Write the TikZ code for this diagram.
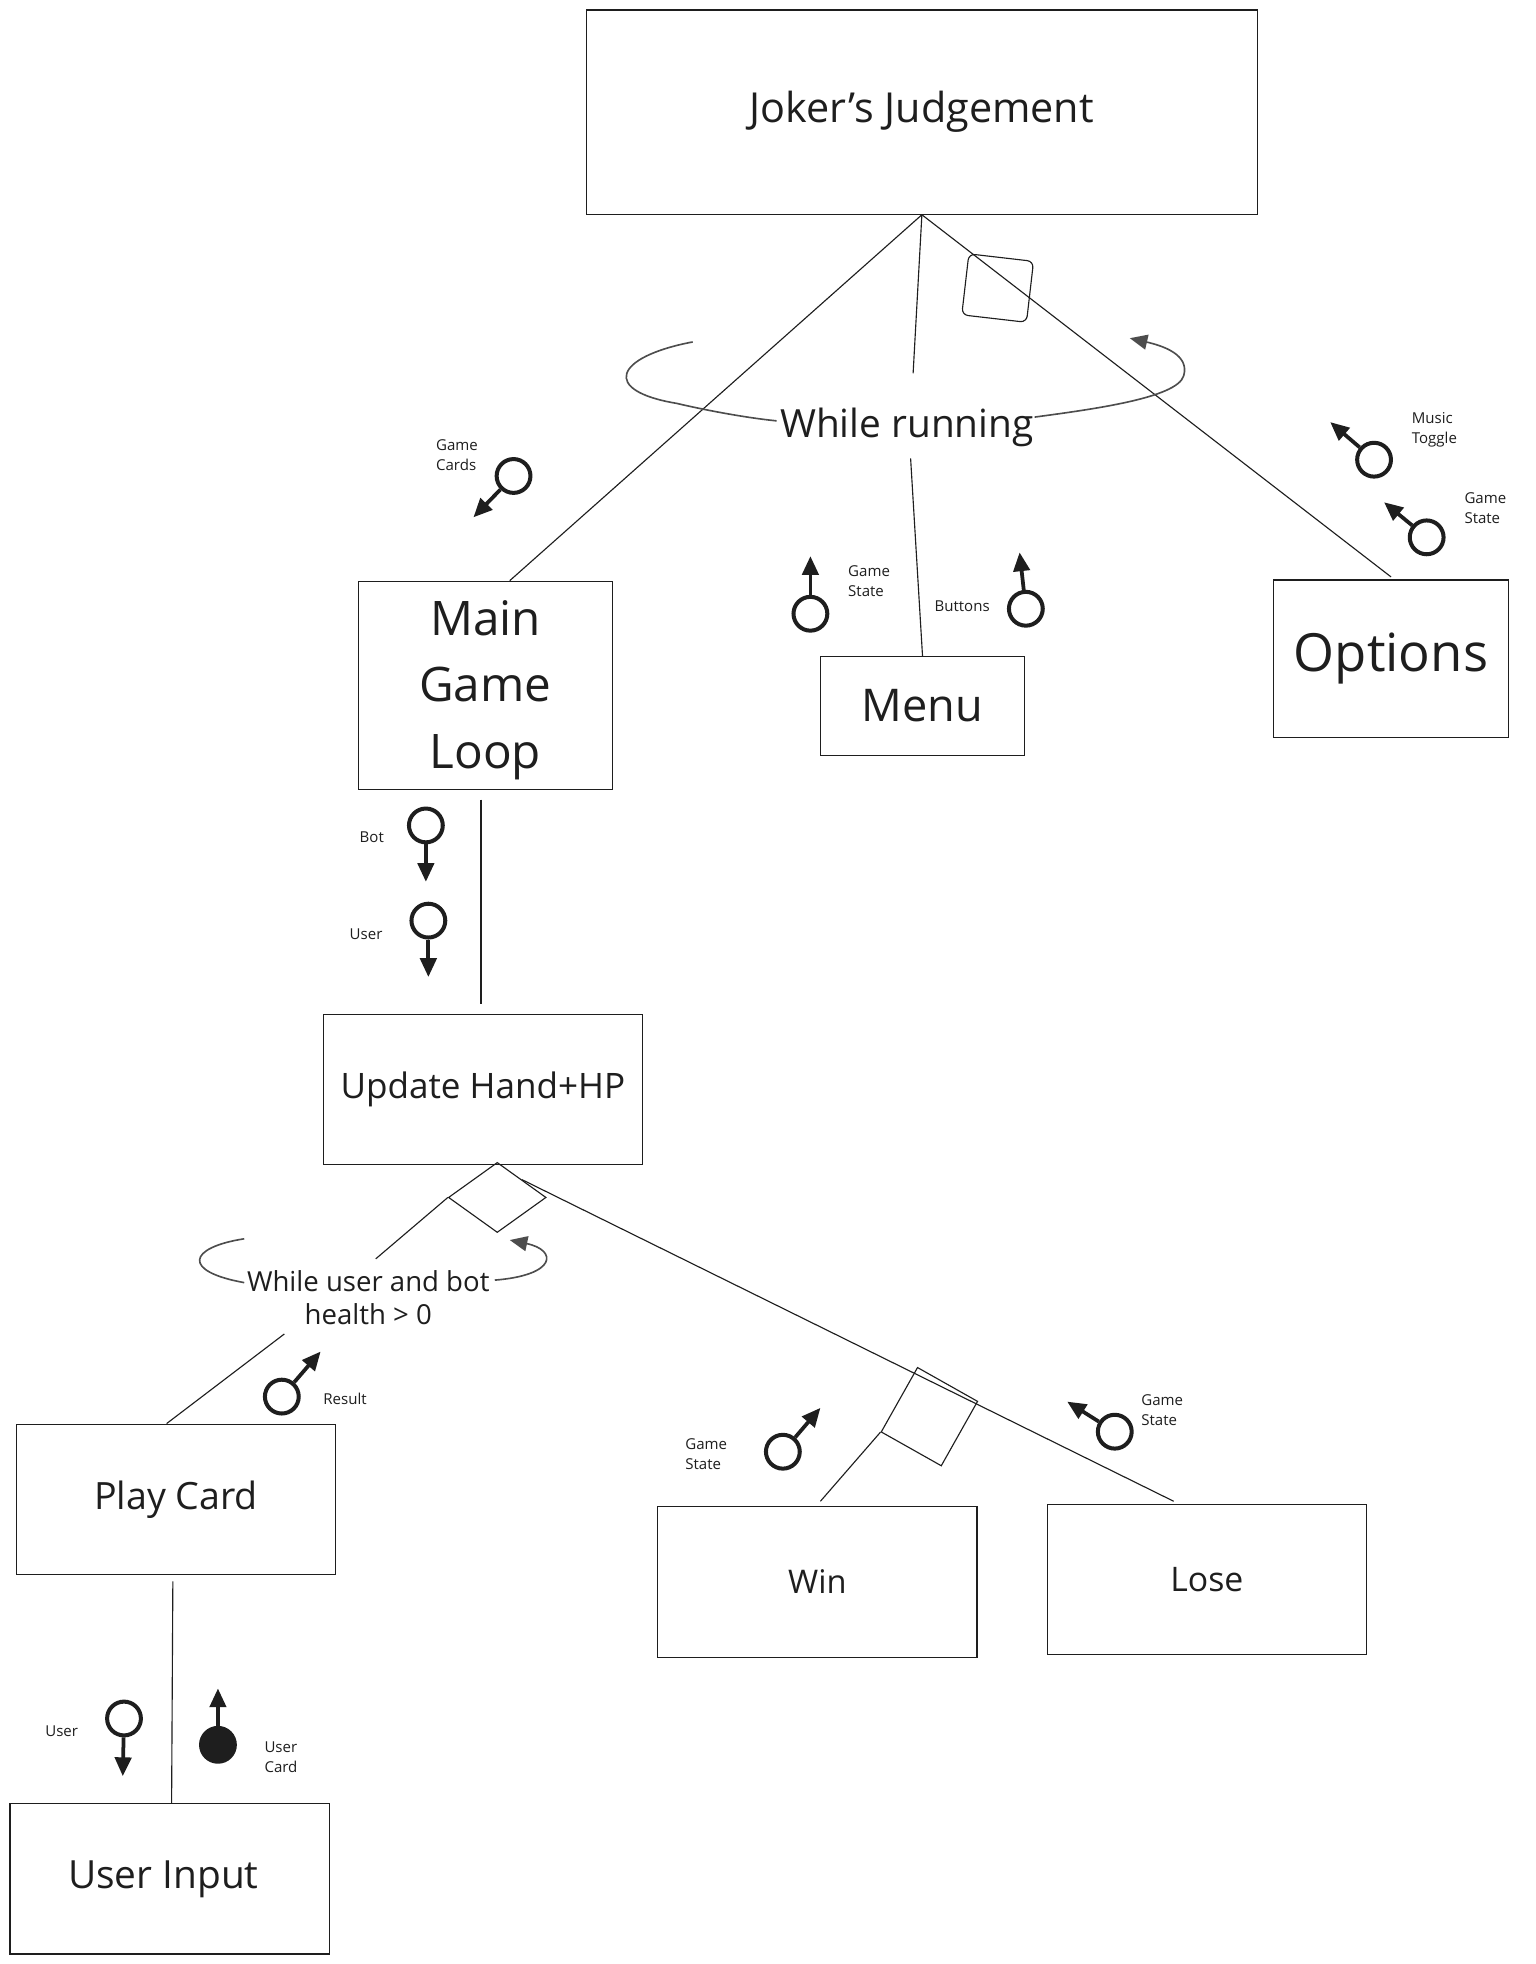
\documentclass[tikz,border=0pt]{standalone}
\usepackage{fontspec}
\setmainfont{Open Sans}
\usetikzlibrary{arrows.meta,shapes.geometric,calc}
\definecolor{ink}{HTML}{1E1E1E}
\definecolor{loopgray}{HTML}{4D4D4D}
\begin{document}
\begin{tikzpicture}[x=1pt,y=-1pt,
 box/.style={draw=ink, line width=0.9pt, text=ink, inner sep=0pt, align=center},
 conn/.style={draw=ink, line width=0.9pt},
 port/.style={circle, draw=ink, line width=3.2pt, minimum size=27pt, inner sep=0pt},
 portfull/.style={port, fill=ink},
 flow/.style={draw=ink, line width=3pt, -{Triangle[length=15pt,width=13pt]}},
 lbl/.style={text=ink, font=\fontsize{12}{16}\selectfont, align=left, inner sep=0pt, anchor=west},
 loopline/.style={draw=loopgray, line width=1.3pt},
 looparrow/.style={loopline, -{Triangle[length=14pt,width=12pt]}},
 tilted/.style={draw=ink, line width=0.9pt, inner sep=0pt},
 looptext/.style={text=ink, align=center, inner sep=1pt}
]
\useasboundingbox[fill=white] (0,0) rectangle (1225.5,1568);

% ---- boxes ----
\node[box, minimum width=536pt, minimum height=163pt, font=\fontsize{33}{38}\selectfont] (joker) at (736,89.5) {Joker's Judgement};
\node[box, minimum width=203pt, minimum height=166pt, font=\fontsize{38}{53}\selectfont] (mainloop) at (387.5,547) {\parbox{190pt}{\centering\vspace*{8pt}Main\\Game\\Loop}};
\node[box, minimum width=163pt, minimum height=79pt, font=\fontsize{36}{40}\selectfont] (menu) at (736.5,563.5) {Menu};
\node[box, minimum width=187pt, minimum height=126pt, font=\fontsize{42}{46}\selectfont] (options) at (1110.5,526) {Options};
\node[box, minimum width=255pt, minimum height=120pt, font=\fontsize{28}{32}\selectfont] (update) at (385.5,870) {Update Hand+HP};
\node[box, minimum width=255pt, minimum height=120pt, font=\fontsize{30}{34}\selectfont] (play) at (140.5,1197) {Play Card};
\node[box, minimum width=255pt, minimum height=120pt, font=\fontsize{26}{30}\selectfont] (win) at (652.5,1263) {Win};
\node[box, minimum width=255pt, minimum height=120pt, font=\fontsize{27}{30}\selectfont] (lose) at (963.5,1261) {Lose};
\node[box, minimum width=255pt, minimum height=120pt, font=\fontsize{31}{34}\selectfont] (input) at (135.5,1500) {\hspace*{-10pt}User Input};

% ---- junction shapes ----
\node[tilted, rectangle, rounded corners=5pt, minimum width=52pt, minimum height=49pt, rotate=-6.6] (sq1) at (796.5,230) {};
\node[tilted, diamond, minimum width=78pt, minimum height=56pt] (uhdia) at (397,956) {};
\node[tilted, rectangle, minimum width=55pt, minimum height=59pt, rotate=-29.4] (sq2) at (742,1131) {};

% ---- loop texts ----
\node[looptext, font=\fontsize{31}{36}\selectfont] (wrun) at (724,341) {While running};
\node[looptext, font=\fontsize{22}{27}\selectfont] (wuser) at (294,1036) {While user and bot\\health > 0};

% ---- connectors ----
\coordinate (wrA) at (729,298);
\coordinate (wrB) at (727,366);
\draw[conn] (joker.south) -- ([xshift=19.5pt]mainloop.north);
\draw[conn] (joker.south) -- (wrA);
\draw[conn] (wrB) -- (menu.north);
\draw[conn] (joker.south) -- ([yshift=2pt]options.north);
\draw[conn] ([xshift=-3.5pt,yshift=-8pt]mainloop.south) -- ([xshift=-1.5pt,yshift=8pt]update.north);

\coordinate (wuA) at (300,1005);
\coordinate (wuB) at (227,1065);
\draw[conn] (uhdia.west) -- (wuA);
\draw[conn] (wuB) -- ([xshift=-7.5pt]play.north);
\draw[conn] (uhdia.north east) -- ([xshift=-26.5pt,yshift=2pt]lose.north);
\draw[conn] (sq2.south west) -- ([xshift=2.5pt,yshift=4pt]win.north);
\draw[conn] ([xshift=-2.5pt,yshift=-5pt]play.south) -- ([xshift=1.5pt]input.north);

% ---- loop arrows ----
\coordinate (l1a) at (553,273);
\coordinate (l1b) at (620,336);
\coordinate (l1c) at (826,333);
\coordinate (l1d) at (902,270);
\draw[loopline] (l1a) .. controls (490,285) and (480,312) .. (540,322) .. controls (570,329) and (600,334) .. (l1b);
\draw[looparrow] (l1c) .. controls (870,327) and (940,318) .. (945,300) .. controls (950,283) and (928,276) .. (l1d);

\coordinate (l2a) at (195,989);
\coordinate (l2b) at (195,1024);
\coordinate (l2c) at (395,1022);
\coordinate (l2d) at (407,990);
\draw[loopline] (l2a) .. controls (150,996) and (145,1015) .. (l2b);
\draw[looparrow] (l2c) .. controls (445,1018) and (445,998) .. (l2d);

% ---- data-flow icons ----
\node[port] (gcP) at (410,380) {};
\coordinate (gcT) at (378,413);
\draw[flow] (gcP) -- (gcT);
\node[lbl] (gcL) at (348,363) {Game\\Cards};

\node[port] (gs1P) at (647,490) {};
\coordinate (gs1T) at (647,444);
\draw[flow] (gs1P) -- (gs1T);
\node[lbl] (gs1L) at (677,464) {Game\\State};

\node[port] (btP) at (819,486) {};
\coordinate (btT) at (814,441);
\draw[flow] (btP) -- (btT);
\node[lbl] (btL) at (746,484) {Buttons};

\node[port] (mtP) at (1097,367) {};
\coordinate (mtT) at (1062,337);
\draw[flow] (mtP) -- (mtT);
\node[lbl] (mtL) at (1127,343) {Music\\Toggle};

\node[port] (gs2P) at (1139,429) {};
\coordinate (gs2T) at (1105,401);
\draw[flow] (gs2P) -- (gs2T);
\node[lbl] (gs2L) at (1169,406) {Game\\State};

\node[port] (botP) at (340,659) {};
\coordinate (botT) at (340,704);
\draw[flow] (botP) -- (botT);
\node[lbl] (botL) at (287,668) {Bot};

\node[port] (usP) at (342,735) {};
\coordinate (usT) at (342,780);
\draw[flow] (usP) -- (usT);
\node[lbl] (usL) at (279,746) {User};

\node[port] (resP) at (225,1115) {};
\coordinate (resT) at (256,1079);
\draw[flow] (resP) -- (resT);
\node[lbl] (resL) at (258,1117) {Result};

\node[port] (gs3P) at (625,1159) {};
\coordinate (gs3T) at (655,1124);
\draw[flow] (gs3P) -- (gs3T);
\node[lbl] (gs3L) at (547,1161) {Game\\State};

\node[port] (gs4P) at (890,1143) {};
\coordinate (gs4T) at (852,1119);
\draw[flow] (gs4P) -- (gs4T);
\node[lbl] (gs4L) at (911,1126) {Game\\State};

\node[port] (us2P) at (99,1372) {};
\coordinate (us2T) at (98,1418);
\draw[flow] (us2P) -- (us2T);
\node[lbl] (us2L) at (36,1382) {User};

\node[portfull] (ucP) at (174,1393) {};
\coordinate (ucT) at (174,1348);
\draw[flow] (ucP) -- (ucT);
\node[lbl] (ucL) at (211,1403) {User\\Card};
\end{tikzpicture}
\end{document}
